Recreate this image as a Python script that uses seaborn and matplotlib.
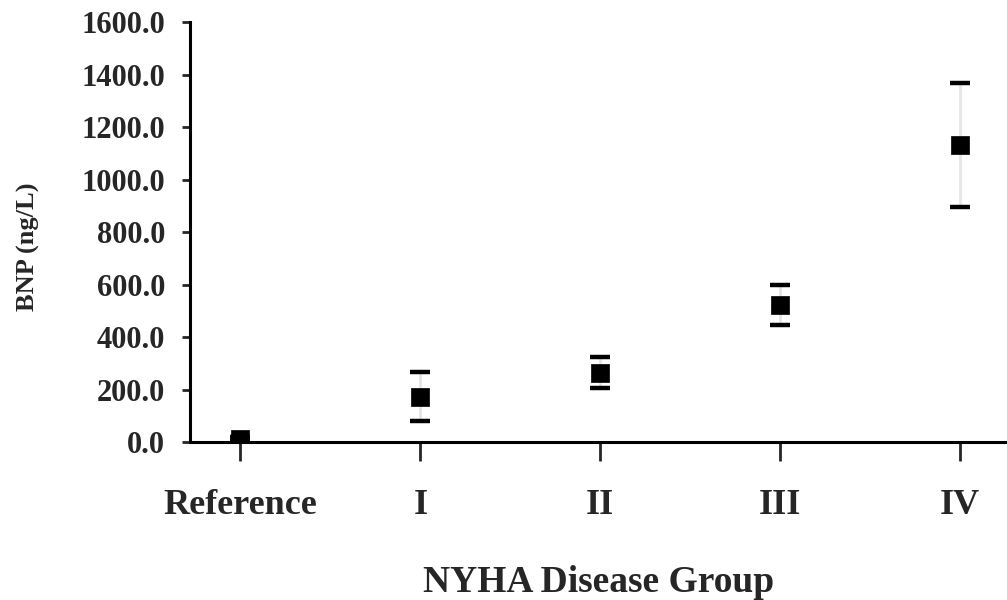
import numpy as np
import pandas as pd
import seaborn as sns
import matplotlib.pyplot as plt

# BNP by NYHA group
groups = ["Reference", "I", "II", "III", "IV"]
bnp_mean = [12, 171, 263, 522, 1131]
bnp_low = [5, 80, 206, 446, 895]
bnp_high = [20, 267, 324, 598, 1368]

df = pd.DataFrame({"group": groups, "bnp": bnp_mean})

sns.set_style("white")
plt.rcParams["font.family"] = ["Liberation Serif", "DejaVu Serif"]
plt.rcParams["font.weight"] = "bold"

fig = plt.figure(figsize=(10.07, 6), dpi=100)
ax = fig.add_axes([0.1887, 0.2633, 0.8113, 0.7])

pos = np.arange(len(groups))
lower = np.array(bnp_mean) - np.array(bnp_low)
upper = np.array(bnp_high) - np.array(bnp_mean)

# whiskers: light grey stem, black caps
line, caps, bars = ax.errorbar(pos, bnp_mean, yerr=[lower, upper], fmt="none",
                               ecolor="#e6e6e6", elinewidth=2, capsize=7, capthick=3.2, zorder=2)
for c in caps:
    c.set_color("black")
    c.set_markeredgecolor("black")
    c.set_markerfacecolor("black")

sns.scatterplot(data=df, x="group", y="bnp", marker="s", s=170, color="black",
                edgecolor="black", linewidth=0.5, ax=ax, zorder=3, legend=False)

ax.set_xlim(-0.28, 4.26)
ax.set_ylim(0, 1600)
ax.set_yticks(np.arange(0, 1601, 200))
ax.set_yticklabels([f"{v:.1f}" for v in np.arange(0, 1601, 200)])
ax.set_xticks(pos)
ax.set_xticklabels(groups)

for s in ["top", "right"]:
    ax.spines[s].set_visible(False)
for s in ["left", "bottom"]:
    ax.spines[s].set_linewidth(2.2)
    ax.spines[s].set_color("black")

ax.tick_params(axis="y", direction="out", length=6, width=2, labelsize=22, pad=12, left=True)
ax.tick_params(axis="x", direction="out", length=14, width=2, labelsize=26, pad=20, bottom=True)

ax.set_xlabel("NYHA Disease Group", fontsize=27, fontweight="bold", labelpad=31)
ax.set_ylabel("BNP (ng/L)", fontsize=19, fontweight="bold", labelpad=30)
ax.yaxis.label.set_y(0.465)

fig.savefig("out.png", dpi=100)
